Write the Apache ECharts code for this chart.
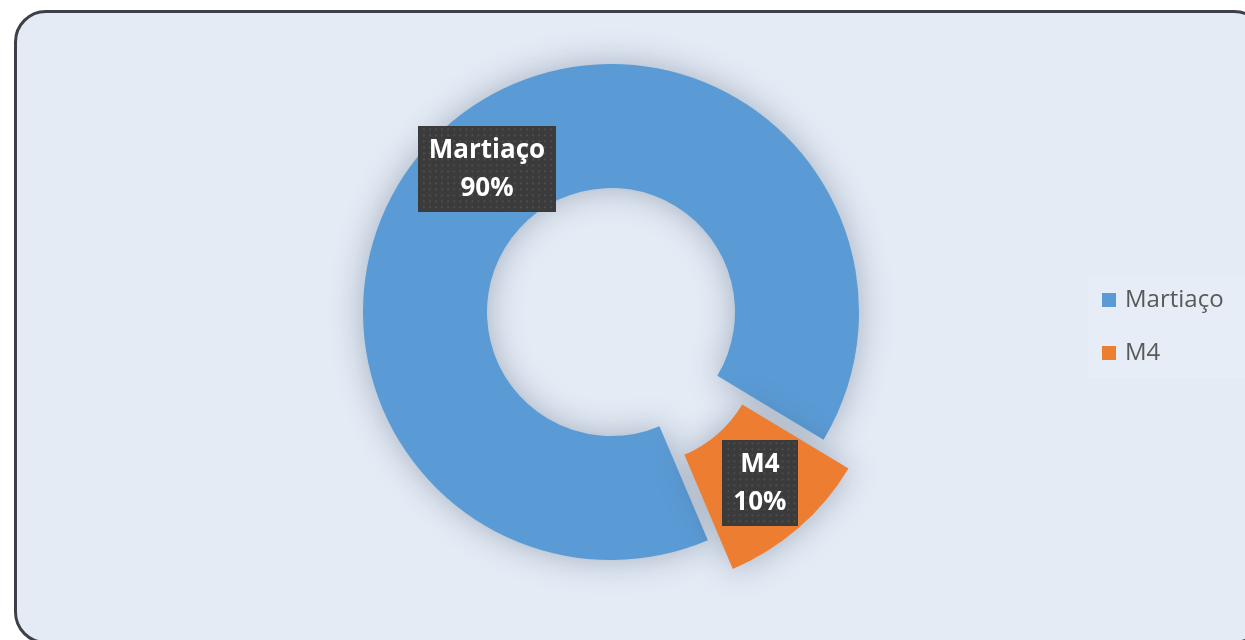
<!DOCTYPE html>
<html>
<head>
<meta charset="utf-8">
<script src="https://cdn.jsdelivr.net/npm/echarts@6/dist/echarts.min.js"></script>
<style>
html, body { margin: 0; padding: 0; background: #fff; overflow: hidden; }
#frame {
  position: absolute; left: 14px; top: 10px;
  width: 1252px; height: 634px;
  border: 3px solid #3b4049; border-radius: 32px;
  background: #e4ebf5; box-sizing: border-box;
}
#chart { position: absolute; left: 0; top: 0; width: 1245px; height: 640px; }
</style>
</head>
<body>
<div id="frame"></div>
<div id="chart"></div>
<script>
// data
const categories = ['Martiaço', 'M4']
const shares = [90, 10]
const colorList = ['#5b9bd5', '#ed7d31']

// dotted dark fill for the data label boxes
function dotted (w, h) {
  const c = document.createElement('canvas')
  c.width = w
  c.height = h
  const ctx = c.getContext('2d')
  ctx.fillStyle = '#3b3b3b'
  ctx.fillRect(0, 0, w, h)
  ctx.fillStyle = '#4d4d4d'
  for (let y = 2; y < h; y += 6) {
    for (let x = (y / 6) % 2 ? 5 : 2; x < w; x += 6) {
      ctx.fillRect(x, y, 2, 2)
    }
  }
  return c
}
const labelBg = {
  'Martiaço': dotted(137, 86),
  'M4': dotted(75, 86)
}

const myChart = echarts.init(document.getElementById('chart'), null, { renderer: 'canvas' })

const pieData = categories.map((name, i) => ({
  name: name,
  value: shares[i],
  selected: name === 'M4', // exploded slice
  label: { backgroundColor: { image: labelBg[name] } }
}))

const option = {
  animation: false,
  color: colorList,
  textStyle: { fontFamily: 'Open Sans' },
  legend: {
    orient: 'vertical',
    left: 1088,
    top: 275,
    padding: [13, 22, 13, 14],
    backgroundColor: '#e7edf6',
    icon: 'rect',
    itemWidth: 14,
    itemHeight: 14,
    itemGap: 29,
    selectedMode: false,
    textStyle: {
      color: '#595959',
      fontSize: 24,
      lineHeight: 24,
      fontFamily: 'Open Sans',
      padding: [0, 0, 0, 4]
    },
    data: categories
  },
  series: [{
    type: 'pie',
    center: [611, 312],
    radius: [124, 248],
    startAngle: -67,
    clockwise: true,
    selectedMode: 'single',
    selectedOffset: 38,
    avoidLabelOverlap: false,
    emphasis: { disabled: true },
    itemStyle: {
      shadowBlur: 32,
      shadowColor: 'rgba(40, 60, 90, 0.35)'
    },
    label: {
      show: true,
      position: 'inside',
      formatter: p => p.name + '\n' + Math.round(p.percent) + '%',
      color: '#fff',
      fontFamily: 'Open Sans',
      fontWeight: 'bold',
      fontSize: 26,
      lineHeight: 38,
      padding: [7, 11, 3, 11],
      shadowBlur: 6,
      shadowOffsetX: 3,
      shadowOffsetY: 3,
      shadowColor: 'rgba(0, 0, 0, 0.45)'
    },
    labelLine: { show: false },
    data: pieData
  }]
}
myChart.setOption(option)
</script>
</body>
</html>
